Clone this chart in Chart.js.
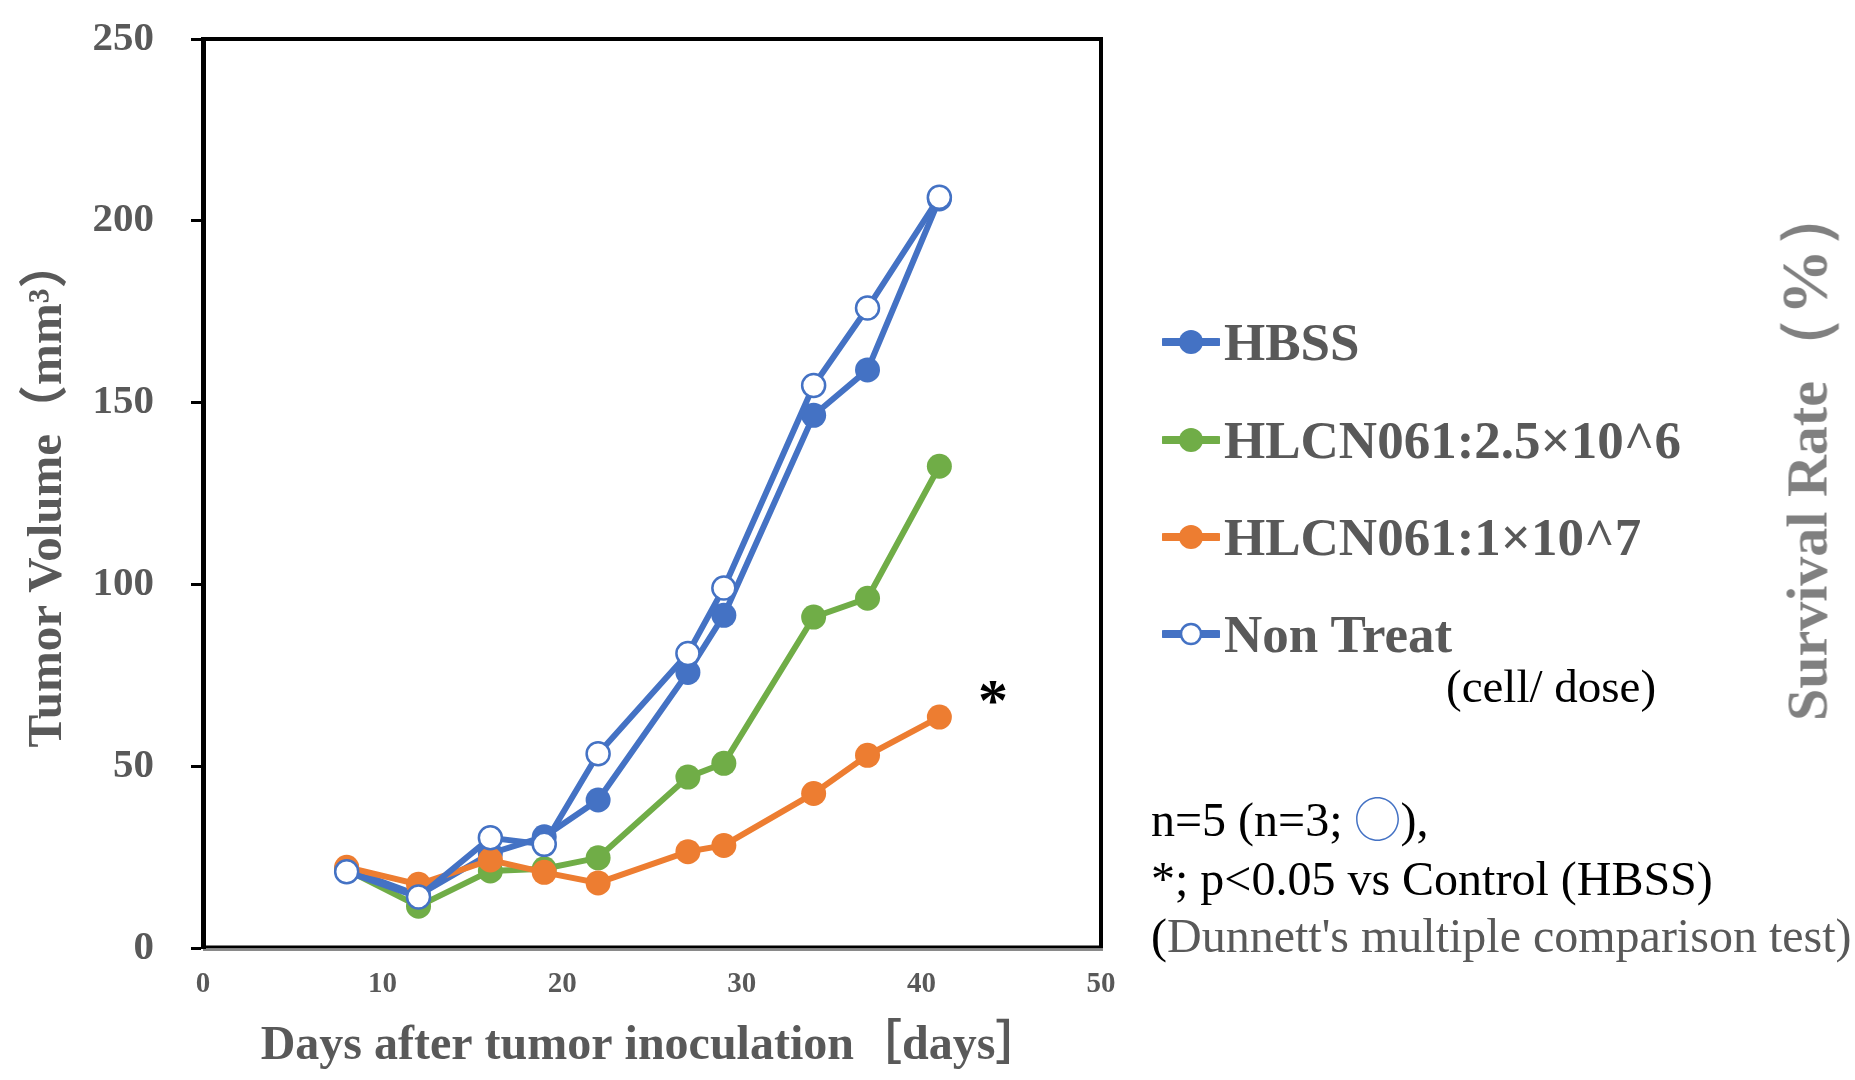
<!DOCTYPE html>
<html>
<head>
<meta charset="utf-8">
<script src="https://cdn.jsdelivr.net/npm/chart.js@4.4.1/dist/chart.umd.min.js"></script>
<style>
  html, body { margin:0; padding:0; background:#fff; }
  #wrap { position:relative; width:1855px; height:1080px; overflow:hidden; }
  #c { position:absolute; left:0; top:0; }
  .t { position:absolute; white-space:nowrap; font-family:"Liberation Serif","Times New Roman",serif; }
  .leg { position:absolute; display:flex; align-items:center; height:60px; }
  .leg span { font-family:"Liberation Serif",serif; font-weight:bold; font-size:53px; color:#595959; line-height:60px; margin-left:4px; }
</style>
</head>
<body>
<div id="wrap">
  <canvas id="c" width="1855" height="1080"></canvas>
</div>
<script>
// ---- data ----
const days     = [8, 12, 16, 19, 22, 27, 29, 34, 37, 41];
const hbss     = [21.8, 14.5, 26.0, 30.6, 40.7, 75.8, 91.5, 146.5, 159.0, 206.0];
const hlcnLow  = [21.5, 11.5, 21.2, 21.8, 24.8, 47.0, 50.8, 91.0, 96.2, 132.5];
const hlcnHigh = [22.2, 17.5, 24.2, 20.8, 17.9, 26.5, 28.2, 42.5, 53.0, 63.5];
const nonTreat = [21.0, 14.0, 30.3, 28.5, 53.4, 81.0, 99.0, 154.7, 176.0, 206.5];
const seriesNames = ["HBSS", "HLCN061:2.5×10^6", "HLCN061:1×10^7", "Non Treat"];
const xTickValues = [0, 10, 20, 30, 40, 50];
const yTickValues = [0, 50, 100, 150, 200, 250];
const xTitle = "Days after tumor inoculation［days］";
const yTitle = "Tumor Volume（mm³）";
const y2Title = "Survival Rate";
const y2Unit = "（%）";

const BLUE = "#4472C4", GREEN = "#70AD47", ORANGE = "#ED7D31";
const toPts = arr => days.map((d, i) => ({x: d, y: arr[i]}));

const serif = '"Liberation Serif", "Times New Roman", "Noto Sans CJK JP", serif';

const framePlugin = {
  id: 'frame',
  beforeDatasetsDraw(chart) {
    const {ctx, chartArea: a} = chart;
    ctx.save();
    ctx.strokeStyle = '#000';
    ctx.lineWidth = 4;
    ctx.beginPath();
    ctx.moveTo(a.left, a.top); ctx.lineTo(a.right, a.top); ctx.lineTo(a.right, a.bottom);
    ctx.stroke();
    ctx.lineWidth = 3;
    ctx.beginPath(); ctx.moveTo(a.left, a.bottom - 1); ctx.lineTo(a.right + 2, a.bottom - 1); ctx.stroke();
    ctx.strokeStyle = '#8a8a8a'; ctx.lineWidth = 2;
    ctx.beginPath(); ctx.moveTo(a.left, a.bottom + 2); ctx.lineTo(a.right + 2, a.bottom + 2); ctx.stroke();
    ctx.restore();
  }
};

const ds = (label, arr, color, order, open) => ({
  label,
  data: toPts(arr),
  borderColor: color,
  backgroundColor: open ? '#fff' : color,
  pointBackgroundColor: open ? '#fff' : color,
  pointBorderColor: color,
  pointBorderWidth: open ? 2.5 : 0,
  pointRadius: open ? 11.5 : 12.5,
  borderWidth: 6,
  tension: 0,
  order
});

new Chart(document.getElementById('c'), {
  type: 'line',
  data: {
    datasets: [
      ds(seriesNames[0], hbss, BLUE, 4, false),
      ds(seriesNames[1], hlcnLow, GREEN, 3, false),
      ds(seriesNames[2], hlcnHigh, ORANGE, 2, false),
      ds(seriesNames[3], nonTreat, BLUE, 1, true)
    ]
  },
  options: {
    responsive: false,
    animation: false,
    devicePixelRatio: 1,
    layout: { padding: { left: 0, right: 754, top: 39, bottom: 0 } },
    plugins: { legend: { display: false }, tooltip: { enabled: false } },
    scales: {
      x: {
        type: 'linear', min: 0, max: 50,
        afterBuildTicks: s => { s.ticks = xTickValues.map(v => ({value: v})); },
        ticks: { font: { family: serif, weight: 'bold', size: 29 }, color: '#595959', padding: 19 },
        grid: { display: false, drawTicks: false },
        border: { display: false },
        title: { display: true, text: xTitle, color: '#595959',
                 font: { family: serif, weight: 'bold', size: 48 }, padding: { top: 0, bottom: 5 } },
        afterFit: s => { s.height = 132; s.paddingLeft = 0; s.paddingRight = 0; }
      },
      y: {
        type: 'linear', min: 0, max: 250,
        afterBuildTicks: s => { s.ticks = yTickValues.map(v => ({value: v})); },
        ticks: { font: { family: serif, weight: 'bold', size: 41 }, color: '#595959', padding: 37 },
        grid: { drawOnChartArea: false, drawTicks: true, tickLength: 12, tickColor: '#000', tickWidth: 3 },
        border: { display: true, color: '#000', width: 5 },
        title: { display: true, text: yTitle, color: '#595959',
                 font: { family: serif, weight: 'bold', size: 49 }, padding: { top: 19, bottom: 0 } },
        afterFit: s => { s.width = 203; s.paddingTop = 0; s.paddingBottom = 0; }
      }
    }
  },
  plugins: [framePlugin]
});

// ---- HTML legend & annotations ----
const wrap = document.getElementById('wrap');
const legendRows = [
  {name: seriesNames[0], color: BLUE, open: false, cy: 342},
  {name: seriesNames[1], color: GREEN, open: false, cy: 440},
  {name: seriesNames[2], color: ORANGE, open: false, cy: 537},
  {name: seriesNames[3], color: BLUE, open: true, cy: 634}
];
legendRows.forEach(r => {
  const d = document.createElement('div');
  d.className = 'leg';
  d.style.left = '1162px';
  d.style.top = (r.cy - 30) + 'px';
  d.innerHTML =
    `<svg width="58" height="30" viewBox="0 0 58 30"><line x1="2" y1="15" x2="56" y2="15" stroke="${r.color}" stroke-width="8" stroke-linecap="round"/>` +
    `<circle cx="29" cy="15" r="${r.open ? 10 : 12}" fill="${r.open ? '#fff' : r.color}" stroke="${r.color}" stroke-width="${r.open ? 2.5 : 0}"/></svg>` +
    `<span></span>`;
  d.querySelector('span').textContent = r.name;
  wrap.appendChild(d);
});

function addText(txt, left, cy, size, opts = {}) {
  const el = document.createElement('div');
  el.className = 't';
  el.style.left = left + 'px';
  el.style.top = (cy - size / 2) + 'px';
  el.style.fontSize = size + 'px';
  el.style.lineHeight = size + 'px';
  el.style.color = opts.color || '#000';
  if (opts.bold) el.style.fontWeight = 'bold';
  if (opts.html) el.innerHTML = txt; else el.textContent = txt;
  wrap.appendChild(el);
  return el;
}
addText("(cell/ dose)", 1446, 686, 47);
addText("*", 978, 700, 60, {bold: true});
addText('n=5 (n=3; <span style="color:#4472C4;font-family:\'Noto Sans CJK JP\';font-size:46px">◯</span>),', 1151, 816, 48, {html: true});
addText("*; p<0.05 vs Control (HBSS)", 1151, 879, 48);
addText('<span style="color:#000">(</span>Dunnett\'s multiple comparison test)', 1151, 936, 48, {html: true, color: '#595959'});

// right-side rotated title
const sr = document.createElement('div');
sr.className = 't';
sr.innerHTML = '<span></span><span style="font-size:66px"></span>';
sr.children[0].textContent = y2Title;
sr.children[1].textContent = y2Unit;
sr.style.fontSize = '58px';
sr.style.lineHeight = '66px';
sr.style.fontWeight = 'bold';
sr.style.color = '#808080';
sr.style.left = '1806px';
sr.style.top = '452px';
sr.style.transform = 'translate(-50%, -50%) rotate(-90deg)';
wrap.appendChild(sr);
</script>
</body>
</html>
